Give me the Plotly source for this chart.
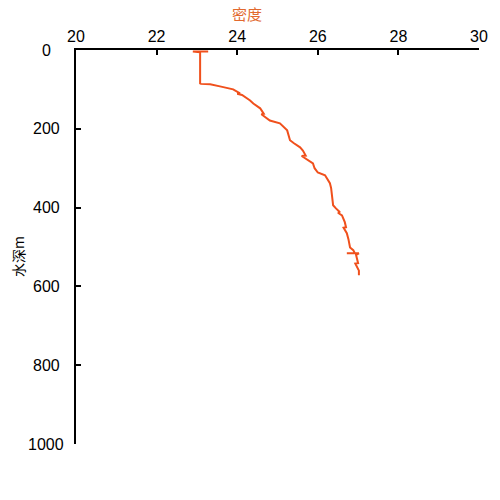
import plotly.graph_objects as go

# Density profile (sigma-t) vs water depth (m)
density = [23.28, 22.90, 23.08, 23.08, 23.10, 23.33, 23.60, 23.90, 24.07, 24.00, 24.12, 24.32,
           24.40, 24.57, 24.66, 24.60, 24.81, 24.95, 25.06, 25.24, 25.31, 25.40, 25.56,
           25.63, 25.70, 25.60, 25.88, 25.92, 26.00, 26.18, 26.30, 26.33, 26.35, 26.38,
           26.45, 26.55, 26.50, 26.60, 26.67, 26.70, 26.64, 26.72, 26.76, 26.80, 26.88, 26.92,
           26.72, 27.02, 26.95, 27.00, 26.93, 26.98, 27.02, 27.02]
depth = [3.8, 3.8, 6, 85, 86, 87, 93, 100, 110, 111, 114, 128,
         136, 148, 162, 163, 179, 183, 186, 204, 229, 236, 247,
         255, 268, 269, 288, 300, 311, 318, 338, 350, 364, 394,
         402, 412, 413, 420, 437, 450, 451, 465, 480, 501, 508, 516,
         516, 516, 520, 541, 542, 552, 560, 572]

x_ticks = [20, 22, 24, 26, 28, 30]
y_ticks = [0, 200, 400, 600, 800, 1000]
y_tick_labels = ["0", "200", "400", "600", "800", "1000"]

x_title = "密度"
y_title = "水深m"

line_color = "#F0501C"
title_color = "#E2692E"
num_font = "Liberation Sans, Arial, sans-serif"
cjk_font = "Noto Sans CJK SC, sans-serif"

fig = go.Figure()
fig.add_trace(go.Scatter(
    x=density, y=depth, mode="lines",
    line=dict(color=line_color, width=2),
    hoverinfo="x+y", showlegend=False,
))

annotations = [
    dict(text=x_title, xref="paper", yref="paper", x=0.424, y=1.092,
         xanchor="center", yanchor="middle", showarrow=False, borderpad=0,
         font=dict(family=cjk_font, size=15, color=title_color)),
    dict(text=y_title, xref="paper", yref="paper", x=-0.144, y=0.477,
         xanchor="center", yanchor="middle", showarrow=False, textangle=-90,
         font=dict(family=cjk_font, size=14, color="#000000")),
]
for v, lab in zip(y_ticks, y_tick_labels):
    annotations.append(dict(text=lab, xref="paper", yref="y", x=-0.0744, y=v,
                            xanchor="center", yanchor="middle", showarrow=False,
                            font=dict(family=num_font, size=16, color="#000000")))

fig.update_layout(
    width=500, height=500,
    margin=dict(l=76, r=21, t=50, b=56),
    paper_bgcolor="white", plot_bgcolor="white",
    annotations=annotations,
    xaxis=dict(
        side="top", range=[20, 30], tickvals=x_ticks,
        ticks="inside", ticklen=5, tickwidth=2, tickcolor="black",
        showline=True, linecolor="black", linewidth=2,
        showgrid=False, zeroline=False,
        tickfont=dict(family=num_font, size=16, color="black"),
    ),
    yaxis=dict(
        range=[1000, 0], tickvals=y_ticks, showticklabels=False,
        ticks="inside", ticklen=5, tickwidth=2, tickcolor="black",
        showline=True, linecolor="black", linewidth=2,
        showgrid=False, zeroline=False,
    ),
)

fig.write_html("out.html", config={"displayModeBar": False},
               post_script="document.body.style.margin='0';")
